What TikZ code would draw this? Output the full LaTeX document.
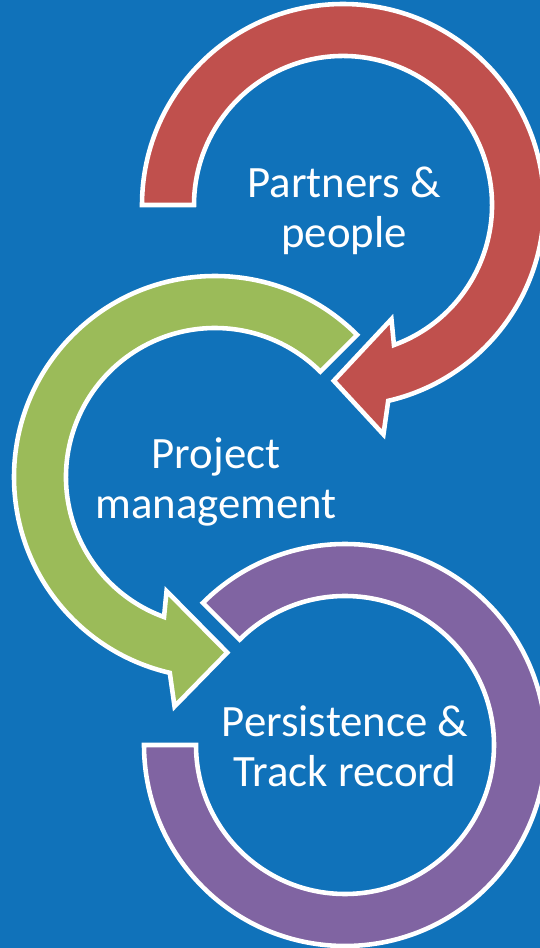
\documentclass[tikz,border=0pt]{standalone}
\usepackage{fontspec}
\setmainfont{Carlito}
\definecolor{slideblue}{RGB}{16,114,186}
\definecolor{ringred}{RGB}{192,80,77}
\definecolor{ringgreen}{RGB}{155,187,89}
\definecolor{ringpurple}{RGB}{128,100,162}
\begin{document}
\begin{tikzpicture}[x=.02cm,y=.02cm,
	ring/.style={draw=white,line width=2.6pt,line join=miter},
	ringtext/.style={text=white,align=center,font=\fontsize{25.5}{28.3}\selectfont}]
	\def\R{201}\def\r{149}
	\fill[slideblue] (0,0) rectangle (540,948);
	\useasboundingbox (0,0) rectangle (540,948);
	\path (343,743) coordinate (P) (215,471) coordinate (M) (345,203) coordinate (T);
	% bottom ring, no head
	\draw[ring,fill=ringpurple] ([shift={(135:\R)}]T) arc[start angle=135,end angle=-180,radius=\R]
	-- ([shift={(180:\r)}]T) arc[start angle=-180,end angle=135,radius=\r] -- cycle;
	% middle arrow
	\draw[ring,fill=ringgreen] ([shift={(45:\R)}]M) arc[start angle=45,end angle=257,radius=\R]
	-- ([shift={(260:233)}]M) -- ([shift={(274:176)}]M) -- ([shift={(247:124)}]M)
	-- ([shift={(250:\r)}]M) arc[start angle=250,end angle=45,radius=\r] -- cycle;
	% top arrow
	\draw[ring,fill=ringred] ([shift={(180:\r)}]P) -- ([shift={(180:\R)}]P) arc[start angle=180,end angle=-77,radius=\R]
	-- ([shift={(-80:233)}]P) -- ([shift={(-93:176)}]P) -- ([shift={(-67:124)}]P)
	-- ([shift={(-70:\r)}]P) arc[start angle=-70,end angle=180,radius=\r] -- cycle;
	\node[ringtext] (partners) at (344,737) {Partners \&\\people};
	\node[ringtext] (project) at (216,466) {Project\\management};
	\node[ringtext] (persist) at (345,202) {Persistence \&\\Track record};
\end{tikzpicture}
\end{document}
